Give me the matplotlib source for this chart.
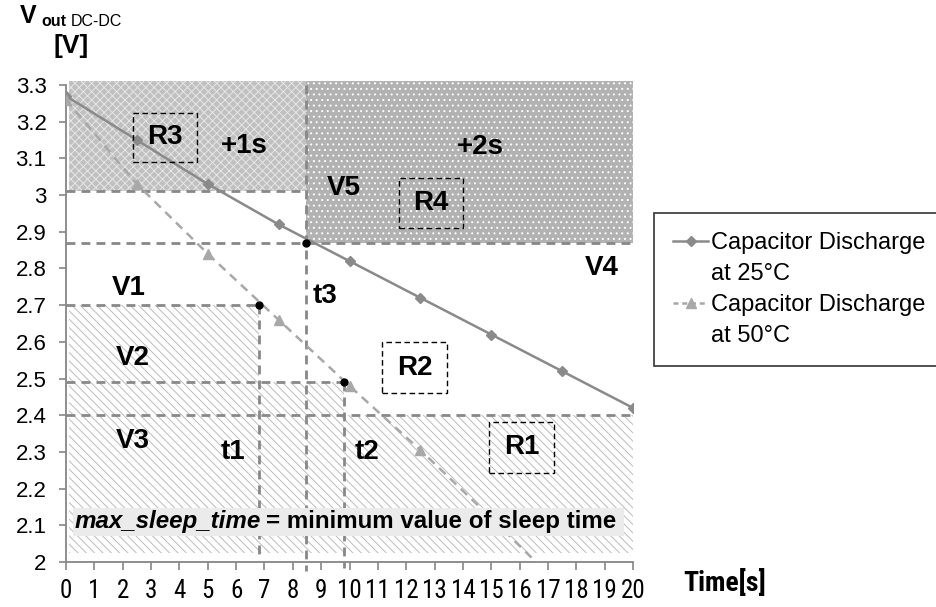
import matplotlib
matplotlib.use("Agg")
import matplotlib.pyplot as plt
from matplotlib.patches import Rectangle, Polygon
from matplotlib.lines import Line2D

# Discharge curves of the storage capacitor
time_s = [0, 2.5, 5, 7.5, 10, 12.5, 15, 17.5, 20]
v_25c = [3.27, 3.15, 3.03, 2.92, 2.82, 2.72, 2.62, 2.52, 2.42]
time_50 = [0, 2.5, 5, 7.5, 10, 12.5, 15, 17.5]
v_50c = [3.26, 3.03, 2.84, 2.66, 2.48, 2.305, 2.12, 1.93]

# Voltage thresholds and the crossing times
v_levels = {"V1": 2.70, "V2": 2.49, "V3": 2.40, "V4": 2.87, "V5": 3.01}
t1, t2, t3 = 6.8, 9.8, 8.45
crossings = [(t1, 2.70), (t2, 2.49), (t3, 2.87)]

xticks = list(range(0, 21))
yticks = [2.0, 2.1, 2.2, 2.3, 2.4, 2.5, 2.6, 2.7, 2.8, 2.9, 3.0, 3.1, 3.2, 3.3]
ytick_labels = ["2", "2.1", "2.2", "2.3", "2.4", "2.5", "2.6", "2.7",
                "2.8", "2.9", "3", "3.1", "3.2", "3.3"]

plt.rcParams["font.family"] = ["Liberation Sans", "DejaVu Sans"]
plt.rcParams["hatch.linewidth"] = 0.7
narrow = ["Roboto Condensed", "Liberation Sans", "DejaVu Sans"]

fig = plt.figure(figsize=(9.37, 6.07), dpi=100)
ax = fig.add_axes([66 / 937, 1 - 562 / 607, (633 - 66) / 937, (562 - 85) / 607])
ax.set_xlim(0, 20)
ax.set_ylim(2, 3.3)

grey = "#888888"
top = 3.31
bottom_fill = 2.025

# Shaded regions
ax.add_patch(Rectangle((0.1, v_levels["V5"]), t3 - 0.1, top - v_levels["V5"],
                       facecolor="#c0c0c0", edgecolor="#e6e6e6", hatch="xxxx",
                       linewidth=0, clip_on=False, zorder=1))
ax.add_patch(Rectangle((t3, v_levels["V4"]), 20 - t3, top - v_levels["V4"],
                       facecolor="#b2b2b2", edgecolor="white", hatch="...",
                       linewidth=0, clip_on=False, zorder=1))
low_zone = [(0.1, v_levels["V1"]), (t1, v_levels["V1"]), (t1, v_levels["V2"]),
            (t2, v_levels["V2"]), (t2, v_levels["V3"]), (20, v_levels["V3"]),
            (20, bottom_fill), (0.1, bottom_fill)]
ax.add_patch(Polygon(low_zone, closed=True, facecolor="white", edgecolor="#bcbcbc",
                     hatch="\\\\\\\\", linewidth=0, zorder=1))

# Dashed guide lines
dash = dict(color=grey, linewidth=2, dashes=(3.2, 2.2), zorder=2, clip_on=False)
ax.plot([0, t3], [v_levels["V5"]] * 2, **dash)
ax.plot([0, 20], [v_levels["V4"]] * 2, **dash)
ax.plot([0, t1], [v_levels["V1"]] * 2, **dash)
ax.plot([0, t2], [v_levels["V2"]] * 2, **dash)
ax.plot([0, 20], [v_levels["V3"]] * 2, **dash)
ax.plot([t1, t1], [v_levels["V1"], 2.02], **dash)
ax.plot([t3, t3], [3.3, 1.975], **dash)
ax.plot([t2, t2], [v_levels["V2"], 1.985], **dash)

# Capacitor discharge curves
ax.plot(time_s, v_25c, color="#8a8a8a", linewidth=1.8, marker="D", markersize=5.5,
        zorder=5, label="Capacitor Discharge at 25°C")
ax.plot(time_50, v_50c, color="#a8a8a8", linewidth=1.8, dashes=(3.5, 2.5),
        marker="^", markersize=7, zorder=5, label="Capacitor Discharge at 50°C")

for tx, vy in crossings:
    ax.plot(tx, vy, "o", color="black", markersize=5, zorder=6)

# Bottom note, drawn over the curves
ax.add_patch(Rectangle((0.25, 2.072), 19.45, 0.075, facecolor="#ebebeb",
                       edgecolor="none", zorder=8))
ax.text(0.32, 2.11, "max_sleep_time", fontsize=17.4, fontweight="bold",
        fontstyle="italic", ha="left", va="center", zorder=9)
ax.text(7.05, 2.11, "= minimum value of sleep time", fontsize=17.4,
        fontweight="bold", ha="left", va="center", zorder=9)

# Region boxes
boxes = {"R3": (2.36, 3.09, 4.62, 3.224), "R4": (11.75, 2.91, 14.0, 3.047),
         "R2": (11.15, 2.46, 13.44, 2.60), "R1": (14.92, 2.243, 17.21, 2.382)}
for name, (x0, y0, x1, y1) in boxes.items():
    ax.add_patch(Rectangle((x0, y0), x1 - x0, y1 - y0, fill=False, edgecolor="black",
                           linewidth=1, linestyle=(0, (4, 2.5)), zorder=7))
    ax.text((x0 + x1) / 2, (y0 + y1) / 2, name, fontsize=20, fontweight="bold",
            ha="center", va="center", zorder=7)

labels = [("+1s", 6.3, 3.134), ("+2s", 14.6, 3.13), ("V5", 9.8, 3.02),
          ("V4", 18.9, 2.80), ("V1", 2.2, 2.747), ("V2", 2.37, 2.555),
          ("V3", 2.37, 2.33), ("t1", 5.9, 2.30), ("t2", 10.6, 2.30), ("t3", 9.15, 2.725)]
for txt, lx, ly in labels:
    ax.text(lx, ly, txt, fontsize=20, fontweight="bold", ha="center", va="center", zorder=7)

# Axes styling
for side in ["top", "right"]:
    ax.spines[side].set_visible(False)
for side in ["left", "bottom"]:
    ax.spines[side].set_color("#868686")
    ax.spines[side].set_linewidth(1.3)
ax.set_yticks(yticks)
ax.set_yticklabels(ytick_labels, fontsize=16)
ax.set_xticks(xticks)
ax.set_xticklabels([str(t) for t in xticks], fontsize=18, fontfamily=narrow)
ax.tick_params(axis="y", length=5, width=1.2, color="#868686", pad=9)
ax.tick_params(axis="x", length=6, width=1.2, color="#868686", pad=6)

fig.text(683 / 937, 1 - 583 / 607, "Time[s]", fontsize=20, fontweight="bold",
         family=narrow, ha="left", va="center")
fig.text(20 / 937, 1 - 23 / 607, "V", fontsize=18, fontweight="bold", ha="left", va="baseline")
fig.text(41 / 937, 1 - 26 / 607, "out", fontsize=11.5, fontweight="bold", ha="left", va="baseline")
fig.text(71 / 937, 1 - 26 / 607, "DC-DC", fontsize=11.5, ha="left", va="baseline")
fig.text(71 / 937, 1 - 46 / 607, "[V]", fontsize=19, fontweight="bold", ha="center", va="center")

# Legend, each label split on two rows
h25 = Line2D([], [], color="#8a8a8a", linewidth=1.8, marker="D", markersize=5)
h50 = Line2D([], [], color="#a8a8a8", linewidth=1.8, dashes=(2, 1.5), marker="^", markersize=6.5)
blank = Line2D([], [], linestyle="none")
leg = fig.legend([h25, blank, h50, blank],
                 ["Capacitor Discharge", "at 25°C", "Capacitor Discharge", "at 50°C"],
                 loc="upper left", bbox_to_anchor=(654 / 937, 1 - 213 / 607),
                 borderaxespad=0, fontsize=17, frameon=True, fancybox=False,
                 handlelength=1.5, handletextpad=0.1, labelspacing=0.38, borderpad=0.8)
leg.get_frame().set_edgecolor("black")
leg.get_frame().set_linewidth(1.2)

fig.savefig("out.png", dpi=100)
